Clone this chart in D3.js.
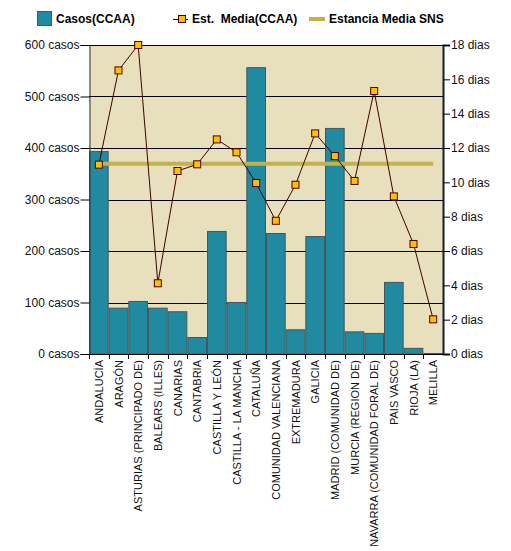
<!DOCTYPE html>
<html>
<head>
<meta charset="utf-8">
<script src="https://cdn.jsdelivr.net/npm/d3@7"></script>
<style>
  body { margin: 0; background: #fff; }
  svg text { font-family: Arial, "Liberation Sans", sans-serif; }
</style>
</head>
<body>
<div id="chart"></div>
<script>
// datos
var regiones = ["ANDALUCÍA", "ARAGÓN", "ASTURIAS (PRINCIPADO DE)", "BALEARS (ILLES)",
  "CANARIAS", "CANTABRIA", "CASTILLA Y LEÓN", "CASTILLA - LA MANCHA", "CATALUÑA",
  "COMUNIDAD VALENCIANA", "EXTREMADURA", "GALICIA", "MADRID (COMUNIDAD DE)",
  "MURCIA (REGION DE)", "NAVARRA (COMUNIDAD FORAL DE)", "PAIS VASCO", "RIOJA (LA)", "MELILLA"];
var casos = [393, 89, 102, 89, 82, 32, 238, 100, 556, 234, 47, 228, 438, 43, 40, 139, 11, 1];
var estanciaMedia = [11.03, 16.52, 18.0, 4.12, 10.66, 11.05, 12.5, 11.75, 9.96,
  7.76, 9.86, 12.85, 11.53, 10.08, 15.32, 9.18, 6.41, 2.02];
var estanciaSNS = 11.08;
var casosTicks = [0, 100, 200, 300, 400, 500, 600];
var diasTicks = [0, 2, 4, 6, 8, 10, 12, 14, 16, 18];
var leyenda = ["Casos(CCAA)", "Est.  Media(CCAA)", "Estancia Media SNS"];

var W = 511, H = 551;
var margin = { left: 89, right: 68, top: 45, bottom: 197 };
var width = W - margin.left - margin.right;
var height = H - margin.top - margin.bottom;

var svg = d3.select("#chart").append("svg").attr("width", W).attr("height", H);

var x = d3.scaleBand().domain(regiones).range([margin.left, margin.left + width]).padding(0);
var yCasos = d3.scaleLinear().domain([0, 600]).range([margin.top + height, margin.top]);
var yDias = d3.scaleLinear().domain([0, 18]).range([margin.top + height, margin.top]);

// fondo
svg.append("rect").attr("x", margin.left).attr("y", margin.top)
  .attr("width", width).attr("height", height).attr("fill", "#e8e0bc");

// rejilla
svg.append("g").selectAll("line").data(casosTicks.slice(1)).join("line")
  .attr("x1", margin.left).attr("x2", margin.left + width)
  .attr("y1", d => Math.round(yCasos(d)) + 0.5).attr("y2", d => Math.round(yCasos(d)) + 0.5)
  .attr("stroke", "#000").attr("stroke-width", 1);

// barras
svg.append("g").selectAll("rect").data(casos).join("rect")
  .attr("x", (d, i) => x(regiones[i]) + 0.5)
  .attr("y", d => yCasos(d))
  .attr("width", x.bandwidth() - 1)
  .attr("height", d => yCasos(0) - yCasos(d))
  .attr("fill", "#1f8aa0").attr("stroke", "#46555f").attr("stroke-width", 1);

// eje izquierdo
var axisL = d3.axisLeft(yCasos).tickValues(casosTicks).tickSize(9).tickPadding(1)
  .tickFormat(d => d + " casos");
var gL = svg.append("g").attr("transform", "translate(" + (margin.left + 0.5) + ",0)").call(axisL);
gL.select(".domain").attr("stroke", "#333");
gL.selectAll("text").attr("font-size", 12).attr("fill", "#111");

// eje derecho
var axisR = d3.axisRight(yDias).tickValues(diasTicks).tickSize(7).tickPadding(1)
  .tickFormat(d => d + " dias");
var gR = svg.append("g").attr("transform", "translate(" + (margin.left + width) + ",0)").call(axisR);
gR.select(".domain").attr("stroke", "#10202c").attr("stroke-width", 2);
gR.selectAll("text").attr("font-size", 12).attr("fill", "#111");

// eje inferior
var base = yCasos(0);
svg.append("line").attr("x1", margin.left).attr("x2", margin.left + width)
  .attr("y1", base + 0.5).attr("y2", base + 0.5).attr("stroke", "#000");
svg.append("g").selectAll("line").data(regiones).join("line")
  .attr("x1", d => Math.round(x(d)) + 0.5).attr("x2", d => Math.round(x(d)) + 0.5)
  .attr("y1", base).attr("y2", base + 5).attr("stroke", "#000");
svg.append("g").selectAll("text").data(regiones).join("text")
  .attr("transform", d => "translate(" + (x(d) + x.bandwidth() / 2 + 4) + "," + (base + 6) + ") rotate(-90)")
  .attr("text-anchor", "end").attr("font-size", 11).attr("fill", "#111")
  .text(d => d);

// linea SNS
svg.append("line")
  .attr("x1", x(regiones[0]) + x.bandwidth() / 2)
  .attr("x2", x(regiones[regiones.length - 1]) + x.bandwidth() / 2)
  .attr("y1", yDias(estanciaSNS)).attr("y2", yDias(estanciaSNS))
  .attr("stroke", "#c3b050").attr("stroke-width", 4);

// linea estancia media
var linea = d3.line().x((d, i) => x(regiones[i]) + x.bandwidth() / 2).y(d => yDias(d));
svg.append("path").datum(estanciaMedia).attr("d", linea)
  .attr("fill", "none").attr("stroke", "#3a0000").attr("stroke-width", 1);
svg.append("g").selectAll("rect").data(estanciaMedia).join("rect")
  .attr("x", (d, i) => x(regiones[i]) + x.bandwidth() / 2 - 3.5)
  .attr("y", d => yDias(d) - 3.5)
  .attr("width", 7).attr("height", 7)
  .attr("fill", "#ffc000").attr("stroke", "#4a0000").attr("stroke-width", 1);

// leyenda
var lg = svg.append("g");
lg.append("rect").attr("x", 37.5).attr("y", 11.5).attr("width", 14).attr("height", 14)
  .attr("fill", "#1f8aa0").attr("stroke", "#46555f");
lg.append("text").attr("x", 56).attr("y", 23).text(leyenda[0]);
lg.append("line").attr("x1", 173).attr("x2", 188).attr("y1", 19.5).attr("y2", 19.5).attr("stroke", "#3a0000");
lg.append("rect").attr("x", 178.5).attr("y", 15.5).attr("width", 7).attr("height", 7)
  .attr("fill", "#ffc000").attr("stroke", "#4a0000");
lg.append("text").attr("x", 192).attr("y", 23).style("white-space", "pre").text(leyenda[1]);
lg.append("line").attr("x1", 309).attr("x2", 325).attr("y1", 19).attr("y2", 19)
  .attr("stroke", "#c3b050").attr("stroke-width", 4);
lg.append("text").attr("x", 329).attr("y", 23).text(leyenda[2]);
lg.selectAll("text").attr("font-size", 12).attr("font-weight", "bold").attr("fill", "#000");
</script>
</body>
</html>
